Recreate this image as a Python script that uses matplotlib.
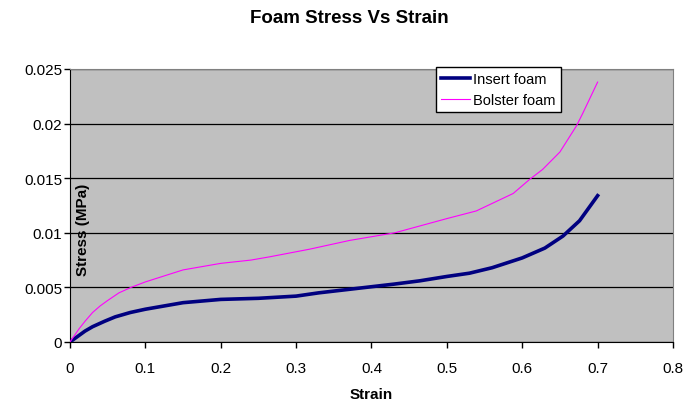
import numpy as np
import matplotlib.pyplot as plt

plt.rcParams['font.family'] = ['Liberation Sans', 'DejaVu Sans']

# Insert foam (navy, thick)
insert_strain = [0, 0.01, 0.02, 0.03, 0.046, 0.06, 0.08, 0.1, 0.125, 0.15, 0.2, 0.25,
                 0.3, 0.33, 0.38, 0.43, 0.464, 0.5, 0.53, 0.56, 0.6, 0.63, 0.654, 0.676, 0.7]
insert_stress = [0, 0.0005, 0.001, 0.0014, 0.0019, 0.0023, 0.0027, 0.003, 0.0033, 0.0036, 0.0039, 0.0040,
                 0.0042, 0.0045, 0.0049, 0.0053, 0.0056, 0.006, 0.0063, 0.0068, 0.0077, 0.0086, 0.0097, 0.0111, 0.0134]

# Bolster foam (magenta, thin)
bolster_strain = [0, 0.005, 0.012, 0.02, 0.03, 0.04, 0.05, 0.065, 0.081, 0.1, 0.15, 0.2, 0.24, 0.265,
                  0.318, 0.371, 0.431, 0.5, 0.539, 0.588, 0.61, 0.627, 0.65, 0.672, 0.68, 0.7]
bolster_stress = [0, 0.0005, 0.0012, 0.0019, 0.0027, 0.0033, 0.0038, 0.0045, 0.005, 0.0055, 0.0066, 0.0072, 0.0075, 0.0078,
                  0.0085, 0.0093, 0.0100, 0.0113, 0.0120, 0.0136, 0.0149, 0.0158, 0.0174, 0.0198, 0.0209, 0.0238]

x_ticks = [0, 0.1, 0.2, 0.3, 0.4, 0.5, 0.6, 0.7, 0.8]
x_labels = ['0', '0.1', '0.2', '0.3', '0.4', '0.5', '0.6', '0.7', '0.8']
y_ticks = [0, 0.005, 0.01, 0.015, 0.02, 0.025]
y_labels = ['0', '0.005', '0.01', '0.015', '0.02', '0.025']

fig = plt.figure(figsize=(6.99, 4.02), dpi=100)
ax = fig.add_axes([0.1001, 0.1468, 0.8627, 0.6791])
ax.set_facecolor('#C0C0C0')

ax.plot(insert_strain, insert_stress, color='#000080', lw=2.6, label='Insert foam', zorder=3)
ax.plot(bolster_strain, bolster_stress, color='#FF00FF', lw=0.8, label='Bolster foam', zorder=3)

ax.set_xlim(0, 0.8)
ax.set_ylim(0, 0.025)
ax.set_xticks(x_ticks)
ax.set_xticklabels(x_labels)
ax.set_yticks(y_ticks)
ax.set_yticklabels(y_labels)
ax.tick_params(direction='out', length=4, width=1, labelsize=11, colors='black')
ax.tick_params(axis='x', pad=9.5)
ax.tick_params(axis='y', pad=1.5)
ax.grid(axis='y', color='black', lw=0.9, zorder=1)
ax.set_axisbelow(True)

for s in ['left', 'bottom']:
    ax.spines[s].set_color('black')
for s in ['top', 'right']:
    ax.spines[s].set_color('#808080')

ax.set_xlabel('Strain', fontsize=11, fontweight='bold', labelpad=8.5)
ax.text(0.022, 0.414, 'Stress (MPa)', transform=ax.transAxes, rotation=90,
        ha='center', va='center', fontsize=11, fontweight='bold')

fig.text(0.5, 0.955, 'Foam Stress Vs Strain', ha='center', va='center',
         fontsize=13.5, fontweight='bold')

leg = ax.legend(loc='upper left', bbox_to_anchor=(0.607, 1.008), borderaxespad=0,
                fontsize=10.5, fancybox=False, framealpha=1, edgecolor='black',
                handlelength=2.0, handletextpad=0.2, borderpad=0.35, labelspacing=0.5)
leg.get_frame().set_linewidth(1)

fig.savefig('out.png', dpi=100)
